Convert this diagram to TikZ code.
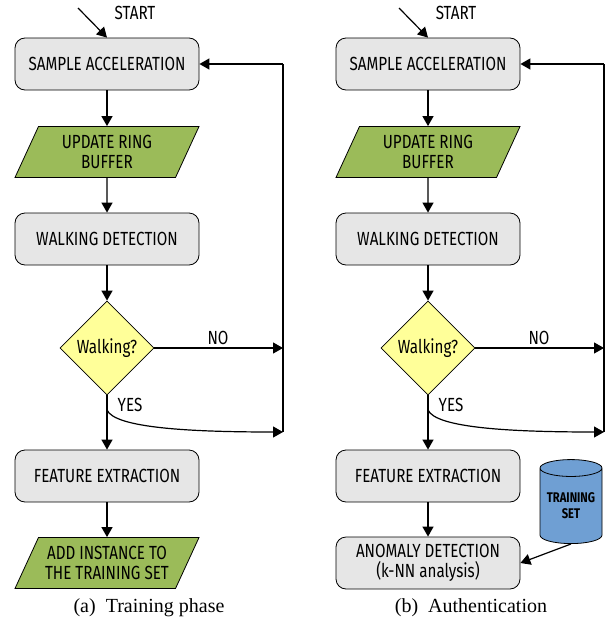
\documentclass[tikz,border=0pt]{standalone}
\usepackage{fontspec}
\setmainfont{Liberation Serif}
\newfontfamily\flowfont[FakeStretch=0.8]{Fira Sans}
\usetikzlibrary{shapes.geometric,arrows.meta}
\definecolor{boxgray}{HTML}{E6E6E6}
\definecolor{iogreen}{HTML}{9BBB59}
\definecolor{decyellow}{HTML}{FFFF99}
\definecolor{dbblue}{HTML}{6F9FD3}
\begin{document}
\begin{tikzpicture}[x=1pt,y=-1pt,
  every node/.style={font=\flowfont\fontsize{19}{20}\selectfont},
  procbox/.style={draw, line width=0.8pt, fill=boxgray, rounded corners=10pt, minimum width=184pt, minimum height=52pt, align=center, inner sep=0pt},
  iobox/.style={draw, line width=0.8pt, fill=iogreen, trapezium, trapezium left angle=55, trapezium right angle=125, trapezium stretches body, minimum width=184pt, minimum height=51pt, align=center, inner sep=0pt},
  decbox/.style={draw, line width=0.8pt, fill=decyellow, diamond, aspect=1, minimum size=94pt, inner sep=0pt},
  dbbox/.style={draw, line width=0.8pt, fill=dbblue, cylinder, shape border rotate=90, aspect=0.35, minimum width=62pt, minimum height=84pt, align=center, inner sep=0pt, font=\flowfont\bfseries\fontsize{14}{16}\selectfont},
  lbl/.style={inner sep=0pt},
  captext/.style={font=\rmfamily\fontsize{20}{22}\selectfont, inner sep=0pt},
  arr/.style={-{Triangle[width=11pt,length=10pt]}, line width=1.2pt},
  ln/.style={line width=1.2pt}
]
\useasboundingbox (0,0) rectangle (605,624);

% ---------- Left panel ----------
\node[procbox] (a1) at (107,64) {SAMPLE ACCELERATION};
\node[iobox] (a2) at (107,152) {UPDATE RING\\BUFFER};
\node[procbox] (a3) at (107,239) {WALKING DETECTION};
\node[decbox] (a4) at (107,348) {Walking?};
\node[procbox] (a5) at (107,476) {FEATURE EXTRACTION};
\node[iobox] (a6) at (107,563) {ADD INSTANCE TO\\THE TRAINING SET};
\node[lbl] (astart) at (135,13) {START};
\coordinate (as0) at (78,8);
\coordinate (ar1) at (283,348);
\coordinate (ar2) at (283,432);
\coordinate (ar0) at (283,64);
\coordinate (ay0) at (107,410);
\node[lbl] (ano) at (218,338) {NO};
\node[lbl] (ayes) at (130,405) {YES};
\node[captext] (acap) at (149,608) {(a)\enspace Training phase};

\draw[arr] (as0) -- (a1.north);
\draw[arr] (a1) -- (a2);
\draw[arr] (a2) -- (a3);
\draw[arr] (a3) -- (a4);
\draw[arr] (a4.east) -- (ar1);
\draw[arr] (a4.south) -- (a5.north);
\draw[arr] (ay0) .. controls (115,428) and (190,432) .. (ar2);
\draw[ln] (ar2) -- (ar0);
\draw[arr] (ar0) -- (a1.east);
\draw[arr] (a5) -- (a6);

% ---------- Right panel ----------
\node[procbox] (b1) at (428,64) {SAMPLE ACCELERATION};
\node[iobox] (b2) at (428,152) {UPDATE RING\\BUFFER};
\node[procbox] (b3) at (428,239) {WALKING DETECTION};
\node[decbox] (b4) at (428,348) {Walking?};
\node[procbox] (b5) at (428,476) {FEATURE EXTRACTION};
\node[procbox] (b6) at (428,563) {ANOMALY DETECTION\\(k-NN analysis)};
\node[dbbox] (bdb) at (571,506) {TRAINING\\SET};
\node[lbl] (bstart) at (456,13) {START};
\coordinate (bs0) at (399,8);
\coordinate (br1) at (604,348);
\coordinate (br2) at (604,432);
\coordinate (br0) at (604,64);
\coordinate (by0) at (428,410);
\node[lbl] (bno) at (539,338) {NO};
\node[lbl] (byes) at (451,405) {YES};
\node[captext] (bcap) at (471,608) {(b)\enspace Authentication};

\draw[arr] (bs0) -- (b1.north);
\draw[arr] (b1) -- (b2);
\draw[arr] (b2) -- (b3);
\draw[arr] (b3) -- (b4);
\draw[arr] (b4.east) -- (br1);
\draw[arr] (b4.south) -- (b5.north);
\draw[arr] (by0) .. controls (436,428) and (511,432) .. (br2);
\draw[ln] (br2) -- (br0);
\draw[arr] (br0) -- (b1.east);
\draw[arr] (b5) -- (b6);
\draw[arr] (bdb.south) -- (b6.east);
\end{tikzpicture}
\end{document}
